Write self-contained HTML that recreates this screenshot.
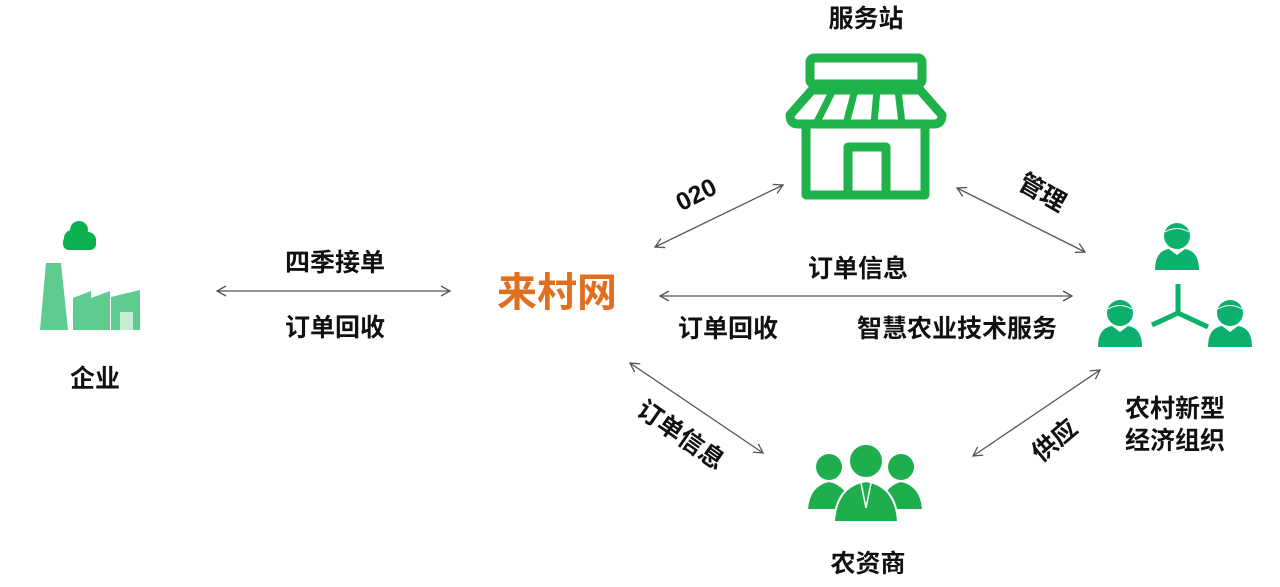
<!DOCTYPE html>
<html><head><meta charset="utf-8"><style>
body{margin:0;width:1280px;height:582px;background:#fff;overflow:hidden}
svg text{font-family:"Liberation Sans","Noto Sans CJK SC",sans-serif;font-weight:bold;fill:#111;font-size:25px}
</style></head><body>
<svg width="1280" height="582" viewBox="0 0 1280 582">
<defs>
<marker id="a" markerWidth="12" markerHeight="12" refX="10" refY="6" orient="auto-start-reverse" markerUnits="userSpaceOnUse">
<path d="M1,1 L10,6 L1,11" fill="none" stroke="#555" stroke-width="1.3"/></marker>
<g id="p"><circle cx="0" cy="0" r="13" fill="#0bb06c"/><path d="M-22,34 Q-22,15 -8,13 L0,19 L8,13 Q22,15 22,34 Z" fill="#0bb06c"/><path d="M-12,-4 Q0,-11 12,-4" stroke="#fff" stroke-width="1" fill="none"/></g>
</defs>
<g stroke="#555" stroke-width="1.3" marker-start="url(#a)" marker-end="url(#a)">
<line x1="217" y1="291" x2="450" y2="291"/>
<line x1="660" y1="296" x2="1072" y2="296"/>
<line x1="655" y1="247" x2="783" y2="185"/>
<line x1="957" y1="188" x2="1085" y2="252"/>
<line x1="630" y1="363" x2="763" y2="453"/>
<line x1="973" y1="456" x2="1100" y2="370"/>
</g>
<g>
<circle cx="72" cy="238" r="8" fill="#0bb04f"/><circle cx="79" cy="230" r="9" fill="#0bb04f"/><circle cx="88" cy="240" r="8" fill="#0bb04f"/><rect x="63" y="236" width="33" height="14" rx="6" fill="#0bb04f"/>
<polygon points="46,263 61,263 68,330 40,330" fill="#5dcc8e"/>
<polygon points="73,298 91,291 91,298 110,291 110,298 110,330 73,330" fill="#5dcc8e"/>
<polygon points="111,297 140,290 140,330 111,330" fill="#5dcc8e"/>
<rect x="120" y="312" width="13" height="18" fill="#c7ecd6"/>
</g>
<g fill="none" stroke="#1fb24a" stroke-width="9" stroke-linejoin="round">
<rect x="810" y="58" width="112" height="26" rx="4"/>
<path d="M812,90 L920,90 L942,115 Q942,124 934,124 L798,124 Q790,124 790,115 Z"/>
<path d="M833,90 L816,124 M855,90 L846,124 M877,90 L874,124 M898,90 L902,124" stroke-width="7"/>
<path d="M806,124 L806,195 L925,195 L925,124"/>
<path d="M848,195 L848,147 L886,147 L886,195"/>
</g>
<use href="#p" x="1177" y="236"/>
<use href="#p" x="1120" y="313"/>
<use href="#p" x="1230" y="313"/>
<g stroke="#0bb06c" stroke-width="5"><line x1="1178" y1="284" x2="1178" y2="313"/><line x1="1178" y1="313" x2="1152" y2="325"/><line x1="1178" y1="313" x2="1208" y2="327"/></g>
<g fill="#1fae4e">
<circle cx="829" cy="467" r="13"/><path d="M808,509 Q810,486 829,482 Q848,486 852,509 Z"/>
<circle cx="901" cy="467" r="13"/><path d="M880,509 Q884,486 901,482 Q920,486 922,509 Z"/>
<circle cx="866" cy="461" r="17" stroke="#fff" stroke-width="2"/><path d="M834,522 Q836,486 866,481 Q896,486 898,522 Z" stroke="#fff" stroke-width="2"/>
</g>
<path d="M861,483 L866,508 L871,483" stroke="#fff" stroke-width="1.5" fill="none"/>
<text x="866" y="27" text-anchor="middle">服务站</text>
<text x="335" y="271" text-anchor="middle">四季接单</text>
<text x="335" y="336" text-anchor="middle">订单回收</text>
<text x="95" y="387" text-anchor="middle">企业</text>
<text x="557" y="306" text-anchor="middle" style="font-size:40px;fill:#e07020">来村网</text>
<text x="858" y="277" text-anchor="middle">订单信息</text>
<text x="728" y="337" text-anchor="middle">订单回收</text>
<text x="957" y="337" text-anchor="middle">智慧农业技术服务</text>
<text transform="translate(700,202) rotate(-27)" text-anchor="middle">020</text>
<text transform="translate(1038,200) rotate(30)" text-anchor="middle">管理</text>
<text transform="translate(676,442) rotate(35)" text-anchor="middle">订单信息</text>
<text transform="translate(1060,447) rotate(-40)" text-anchor="middle">供应</text>
<text x="1175" y="417" text-anchor="middle">农村新型</text>
<text x="1175" y="449" text-anchor="middle">经济组织</text>
<text x="868" y="572" text-anchor="middle">农资商</text>
</svg>
</body></html>
